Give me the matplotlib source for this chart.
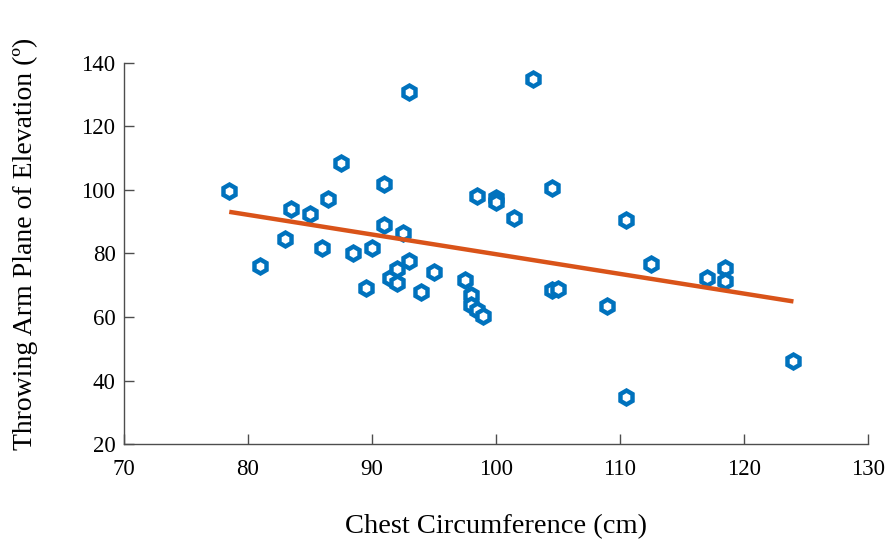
import matplotlib.pyplot as plt
import numpy as np

plt.rcParams['font.family'] = ['Liberation Serif', 'DejaVu Serif']

fig, ax = plt.subplots(figsize=(8.91, 5.41), dpi=100)
fig.subplots_adjust(left=0.139, right=0.974, bottom=0.179, top=0.884)

# chest circumference (cm) vs throwing arm plane of elevation (deg)
chest = [78.5, 81.0, 83.0, 83.5, 85.0, 86.0, 86.5, 87.5, 88.5, 89.5,
         90.0, 91.0, 91.0, 91.5, 92.0, 92.0, 92.5, 93.0, 93.0, 94.0,
         95.0, 97.5, 98.0, 98.0, 98.5, 99.0, 98.5, 100.0, 100.0, 101.5,
         103.0, 104.5, 104.5, 105.0, 109.0, 110.5, 110.5, 112.5, 117.0,
         118.5, 118.5, 124.0]
elevation = [99.7, 76.0, 84.7, 94.0, 92.3, 81.6, 97.1, 108.5, 80.0, 69.1,
             81.8, 101.8, 88.8, 72.2, 75.0, 70.8, 86.3, 130.7, 77.7, 67.8,
             74.3, 71.8, 67.0, 63.8, 62.2, 60.2, 98.1, 97.3, 96.3, 91.2,
             135.0, 100.7, 68.6, 68.9, 63.6, 90.6, 34.9, 76.8, 72.4,
             75.3, 71.2, 46.1]

# fitted trend line end points
fit_x = [78.5, 124.0]
fit_y = [93.1, 64.9]

ax.plot(chest, elevation, linestyle='none', marker='h', markersize=10,
        markerfacecolor='white', markeredgecolor='#0072BD', markeredgewidth=3.2)
ax.plot(fit_x, fit_y, color='#D95319', linewidth=3.2, solid_capstyle='butt')

ax.set_xlim(70, 130)
ax.set_ylim(20, 140)
ax.set_xticks(np.arange(70, 131, 10))
ax.set_yticks(np.arange(20, 141, 20))

for s in ['top', 'right']:
    ax.spines[s].set_visible(False)
for s in ['left', 'bottom']:
    ax.spines[s].set_color('#4d4d4d')
    ax.spines[s].set_linewidth(1.0)

ax.tick_params(direction='in', length=7, width=1.0, color='#4d4d4d',
               labelsize=16.5)
ax.tick_params(axis='x', pad=11)
ax.tick_params(axis='y', pad=6)

ax.set_xlabel('Chest Circumference (cm)', fontsize=20.5, labelpad=24)
ax.set_ylabel('Throwing Arm Plane of Elevation (º)', fontsize=20)
ax.yaxis.set_label_coords(-0.115, 0.525)

plt.savefig('out.png', dpi=100)
